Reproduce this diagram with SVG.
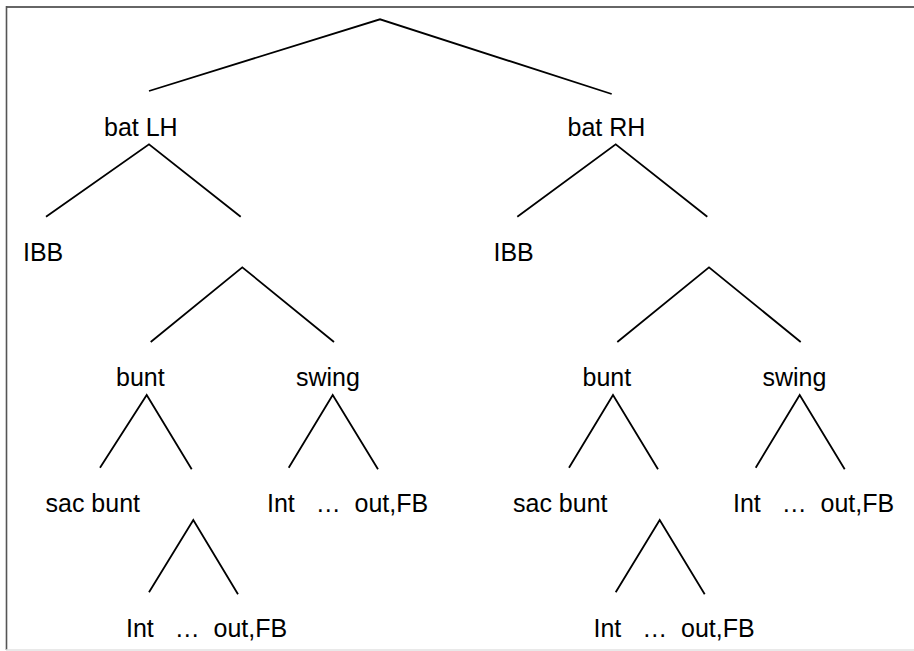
<svg xmlns="http://www.w3.org/2000/svg" width="914" height="651" viewBox="0 0 914 651">
<style>
.l{stroke:#000;stroke-width:1.8;fill:none;stroke-linecap:butt}
text{font-family:"Liberation Sans",Arial,sans-serif;font-size:25px;fill:#000}
</style>
<rect width="914" height="651" fill="#fff"/>
<g id="frame">
<line x1="6" y1="7" x2="914" y2="7" stroke="#333" stroke-width="1.6"/>
<line x1="6.5" y1="6" x2="6.5" y2="650" stroke="#555" stroke-width="1.6"/>
<line x1="6" y1="650" x2="914" y2="650" stroke="#e2e2e2" stroke-width="1.4"/>
</g>
<g id="connectors">
<polyline class="l" points="149,91 380,19.3 611.7,94"/>
<polyline class="l" points="46,216.7 149,144.3 240.7,216.7"/>
<polyline class="l" points="150.7,342 242.3,267.3 334,342"/>
<polyline class="l" points="100,467.7 146.7,395 191.7,469.3"/>
<polyline class="l" points="288.7,467.7 332.7,395 378,469.3"/>
<polyline class="l" points="149,592.3 193.3,520 238,594.3"/>
<polyline class="l" points="517.3,216.7 615.7,144.3 707.3,216.7"/>
<polyline class="l" points="617.3,342 709,267.3 800.7,342"/>
<polyline class="l" points="569,467.7 613,395 658,469.3"/>
<polyline class="l" points="755.7,467.7 799.7,395 844.7,469.3"/>
<polyline class="l" points="615.7,592.3 659.7,520 704.7,594.3"/>
</g>
<g id="batLH"><text x="104" y="136">bat LH</text></g>
<g id="batRH"><text x="567.5" y="136">bat RH</text></g>
<g id="IBB_L"><text x="23" y="260.7">IBB</text></g>
<g id="IBB_R"><text x="493.5" y="260.7">IBB</text></g>
<g id="bunt_L"><text x="116" y="386">bunt</text></g>
<g id="swing_L"><text x="296" y="386">swing</text></g>
<g id="bunt_R"><text x="582.5" y="386">bunt</text></g>
<g id="swing_R"><text x="762.5" y="386">swing</text></g>
<g id="sacbunt_L"><text x="45.5" y="511.7">sac bunt</text></g>
<g id="sacbunt_R"><text x="513" y="511.7">sac bunt</text></g>
<g id="out_swing_L"><text x="267" y="511.7" xml:space="preserve">Int   …  out,FB</text></g>
<g id="out_swing_R"><text x="733" y="511.7" xml:space="preserve">Int   …  out,FB</text></g>
<g id="out_bunt_L"><text x="126" y="637.3" xml:space="preserve">Int   …  out,FB</text></g>
<g id="out_bunt_R"><text x="593.5" y="637.3" xml:space="preserve">Int   …  out,FB</text></g>
</svg>
